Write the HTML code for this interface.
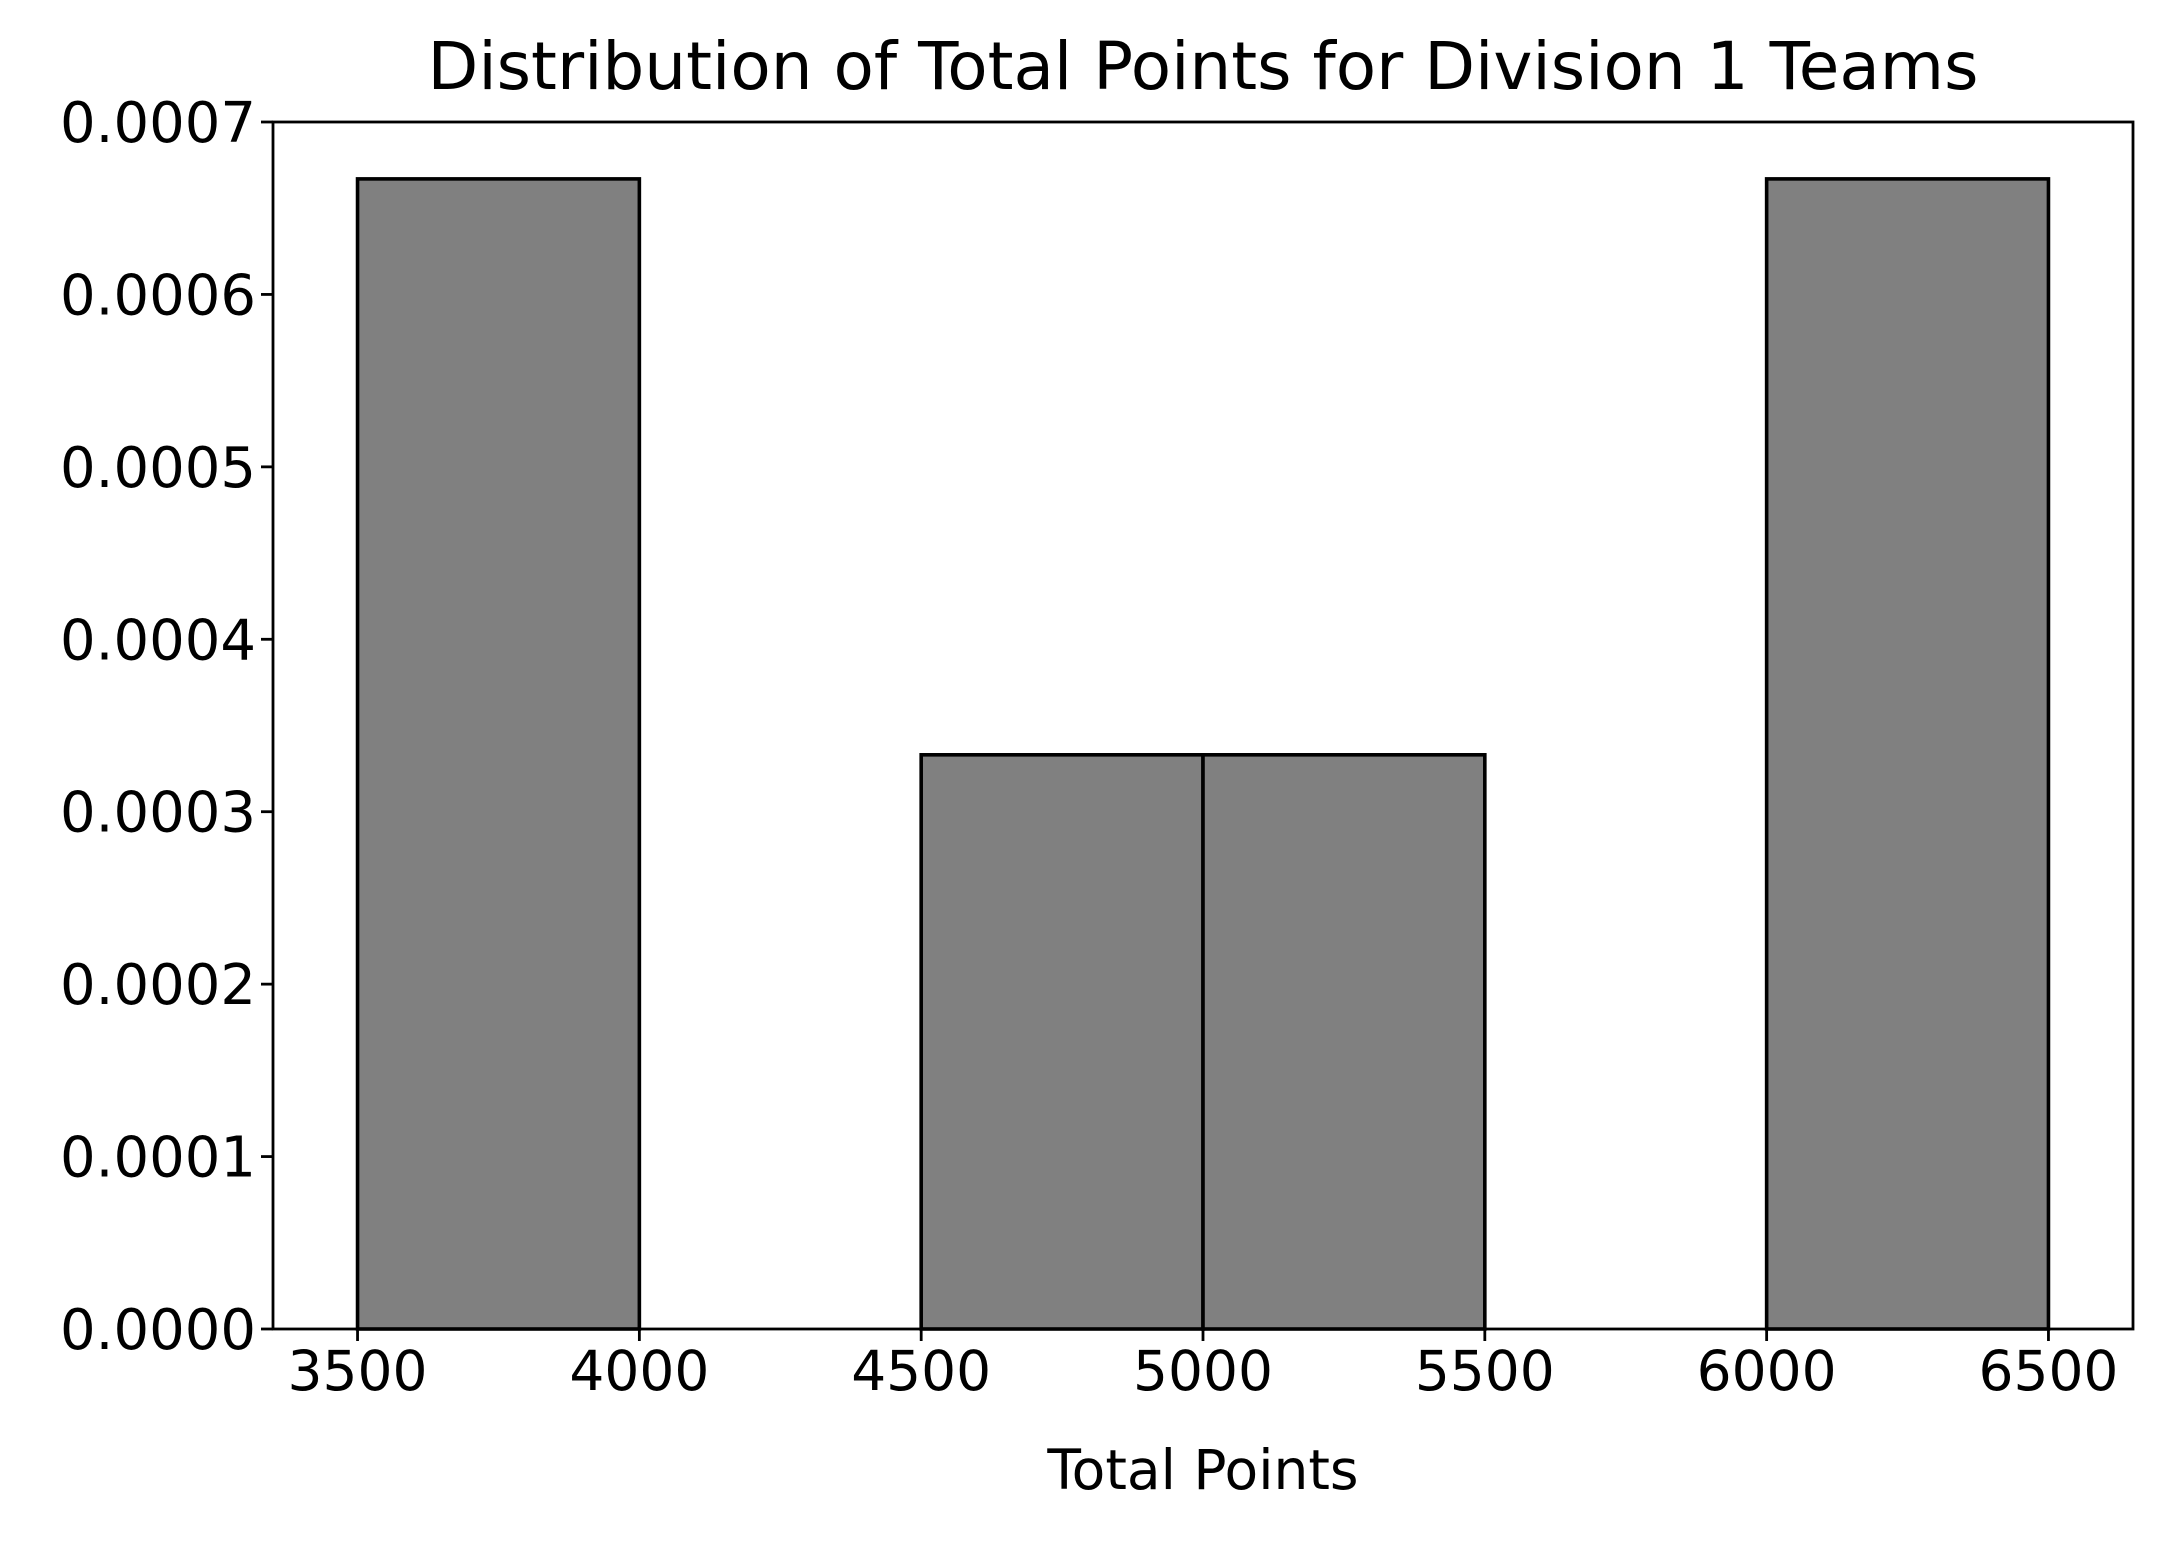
<!DOCTYPE html>
<html><head><meta charset="utf-8"><style>
html,body{margin:0;padding:0;background:#fff;}
svg text{font-family:"DejaVu Sans","Liberation Sans",sans-serif;fill:#000;}
</style></head><body>
<svg id="chart" width="2173" height="1540" xmlns="http://www.w3.org/2000/svg">
<rect width="2173" height="1540" fill="#fff"/>
<g id="bars"></g>
<g id="axes"></g>
</svg>
<script>
const binEdges = [3500, 4000, 4500, 5000, 5500, 6000, 6500];
const densities = [0.000667, 0, 0.000333, 0.000333, 0, 0.000667];
const xTicks = [3500, 4000, 4500, 5000, 5500, 6000, 6500];
const yTicks = [0, 0.0001, 0.0002, 0.0003, 0.0004, 0.0005, 0.0006, 0.0007];
const yTickLabels = ["0.0000","0.0001","0.0002","0.0003","0.0004","0.0005","0.0006","0.0007"];

const L=273,R=2133,T=122,B=1329;
const xMin=3350,xMax=6650,yMin=0,yMax=0.0007;
const sx=v=>L+(v-xMin)/(xMax-xMin)*(R-L);
const sy=v=>B-(v-yMin)/(yMax-yMin)*(B-T);
const NS="http://www.w3.org/2000/svg";
function mk(tag,attrs,parent){const e=document.createElementNS(NS,tag);for(const k in attrs)e.setAttribute(k,attrs[k]);parent.appendChild(e);return e;}
const bars=document.getElementById('bars'),axes=document.getElementById('axes'),svg=document.getElementById('chart');
densities.forEach((d,i)=>{
  const x0=sx(binEdges[i]),x1=sx(binEdges[i+1]),y=sy(d);
  const r=mk('rect',{x:x0,y:y,width:x1-x0,height:B-y,fill:'#808080',stroke:'#000','stroke-width':3.6},bars);
  
  
});
const frame=mk('rect',{x:L,y:T,width:R-L,height:B-T,fill:'none',stroke:'#000','stroke-width':2.8},axes);


xTicks.forEach(v=>{
  const x=sx(v);
  const t=mk('line',{x1:x,x2:x,y1:B,y2:B+12,stroke:'#000','stroke-width':2.8},axes);
  
  
  const tx=mk('text',{x:x,y:1390,'text-anchor':'middle','font-size':55},axes);
  tx.textContent=String(v);
  
  
});
yTicks.forEach((v,i)=>{
  const y=sy(v);
  const t=mk('line',{x1:L-12,x2:L,y1:y,y2:y,stroke:'#000','stroke-width':2.8},axes);
  
  
  const tx=mk('text',{x:256,y:y+20,'text-anchor':'end','font-size':56},axes);
  tx.textContent=yTickLabels[i];
  
  
});
const title=mk('text',{x:(L+R)/2,y:89,'text-anchor':'middle','font-size':66},svg);
title.textContent='Distribution of Total Points for Division 1 Teams';


const xl=mk('text',{x:(L+R)/2,y:1489,'text-anchor':'middle','font-size':55},svg);
xl.textContent='Total Points';


</script>
</body></html>
